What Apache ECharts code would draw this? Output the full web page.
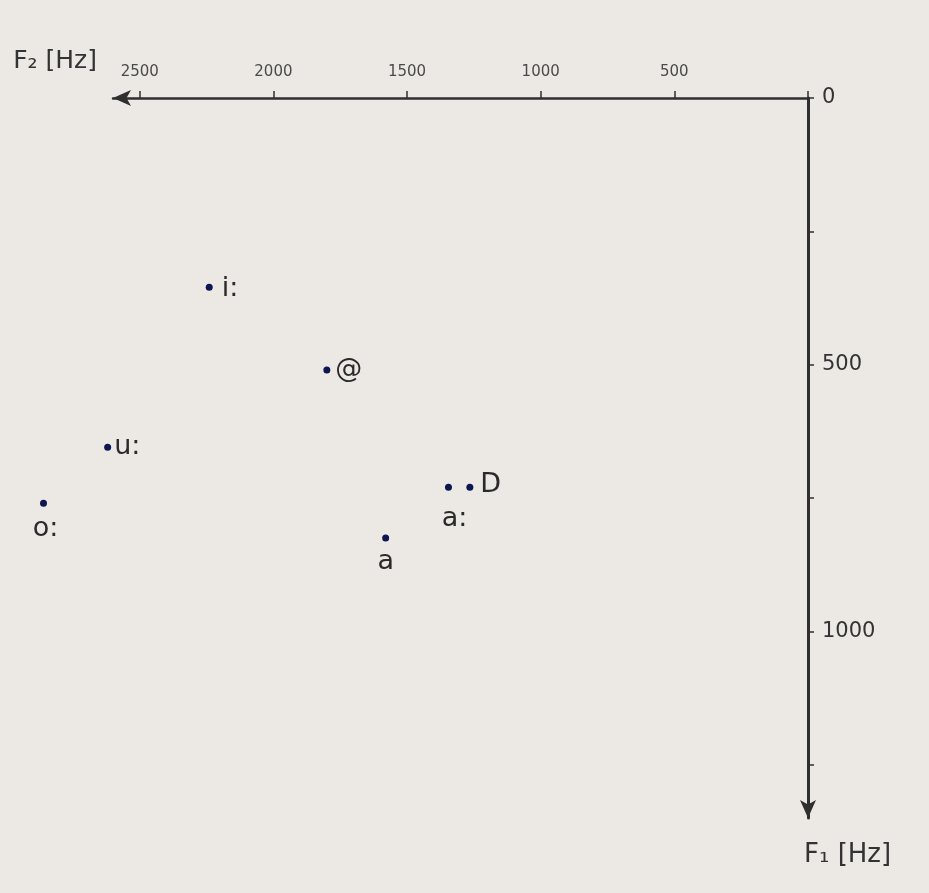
<!DOCTYPE html>
<html>
<head>
<meta charset="utf-8">
<script src="https://cdn.jsdelivr.net/npm/echarts@6/dist/echarts.min.js"></script>
<style>
  html, body { margin: 0; padding: 0; background: #ece9e4; }
  #vowelChart { width: 929px; height: 893px; }
</style>
</head>
<body>
<div id="vowelChart"></div>
<script>
// vowel symbols (SAMPA) and their formants
var vowels = ['i:', '@', 'u:', 'o:', 'a', 'a:', 'D'];
var f2Values = [2240, 1800, 2620, 2860, 1580, 1345, 1265];
var f1Values = [355, 510, 655, 760, 825, 730, 730];
var f2Ticks = [0, 500, 1000, 1500, 2000, 2500];
var f2TickLabels = [500, 1000, 1500, 2000, 2500];
var f1Ticks = [0, 250, 500, 750, 1000, 1250];
var f1TickLabels = [0, 500, 1000];

var chartVowels = {
    init: function (params) {
        var myChart = echarts.init(document.getElementById('vowelChart'));
        myChart.setOption(this.option(params), true);
    },

    // where each vowel's label sits next to its dot
    labelPos: {
        'i:': { position: 'right', offset: [4, 2] },
        '@': { position: 'right', offset: [0, 0] },
        'u:': { position: 'right', offset: [-2, 0] },
        'o:': { position: 'bottom', offset: [2, 4] },
        'a': { position: 'bottom', offset: [0, 2] },
        'a:': { position: 'bottom', offset: [6, 10] },
        'D': { position: 'right', offset: [2, -2] },
    },

    option: function (params) {
        var self = this;
        var points = params.name.map(function (n, i) {
            var lp = self.labelPos[n];
            return {
                name: n,
                value: [params.x[i], params.y[i]],
                label: { position: lp.position, offset: lp.offset },
            };
        });
        var plain = function (v) { return String(v); };
        return {
            backgroundColor: '#ece9e4',
            animation: false,
            grid: {
                top: 98,
                left: 113,
                right: 121,
                bottom: 75,
                outerBoundsMode: 'none',
            },
            xAxis: {
                type: 'value',
                position: 'top',
                inverse: true,
                min: 0,
                max: 2600,
                name: 'F\u2082 [Hz]',
                nameLocation: 'end',
                nameGap: 8,
                nameTextStyle: {
                    color: '#333',
                    fontSize: 25,
                    fontFamily: 'DejaVu Sans',
                    verticalAlign: 'bottom',
                    padding: [0, 8, 24, 0],
                },
                axisLine: {
                    lineStyle: { color: '#2f2f2f', width: 2.5 },
                    symbol: ['arrow', 'none'],
                    symbolSize: [12, 18],
                },
                axisTick: {
                    length: 7,
                    customValues: params.xTicks,
                    lineStyle: { color: '#2f2f2f', width: 1.5 },
                },
                axisLabel: {
                    color: '#4a4a4a',
                    fontSize: 15,
                    fontFamily: 'DejaVu Sans',
                    margin: 18,
                    customValues: params.xLabels,
                    formatter: plain,
                },
                splitLine: { show: false },
            },
            yAxis: {
                type: 'value',
                position: 'right',
                inverse: true,
                min: 0,
                max: 1350,
                name: 'F\u2081 [Hz]',
                nameLocation: 'end',
                nameGap: 24,
                nameTextStyle: {
                    color: '#333',
                    fontSize: 26,
                    fontFamily: 'DejaVu Sans',
                    align: 'left',
                    padding: [0, 0, 0, -4],
                },
                axisLine: {
                    lineStyle: { color: '#2f2f2f', width: 3 },
                    symbol: ['arrow', 'none'],
                    symbolSize: [12, 18],
                },
                axisTick: {
                    length: 6,
                    customValues: params.yTicks,
                    lineStyle: { color: '#2f2f2f', width: 1.5 },
                },
                axisLabel: {
                    color: '#333',
                    fontSize: 21,
                    fontFamily: 'DejaVu Sans',
                    margin: 14,
                    customValues: params.yLabels,
                    formatter: plain,
                },
                splitLine: { show: false },
            },
            series: [{
                type: 'scatter',
                clip: false,
                symbol: 'circle',
                symbolSize: 7,
                itemStyle: { color: '#0c1650', opacity: 1 },
                label: {
                    show: true,
                    formatter: '{b}',
                    color: '#2a2a2a',
                    fontSize: 27,
                    fontFamily: 'DejaVu Sans',
                },
                data: points,
            }], // series
        };
    }, // option
};

chartVowels.init({
    name: vowels,
    x: f2Values,
    y: f1Values,
    xTicks: f2Ticks,
    xLabels: f2TickLabels,
    yTicks: f1Ticks,
    yLabels: f1TickLabels,
});
</script>
</body>
</html>
